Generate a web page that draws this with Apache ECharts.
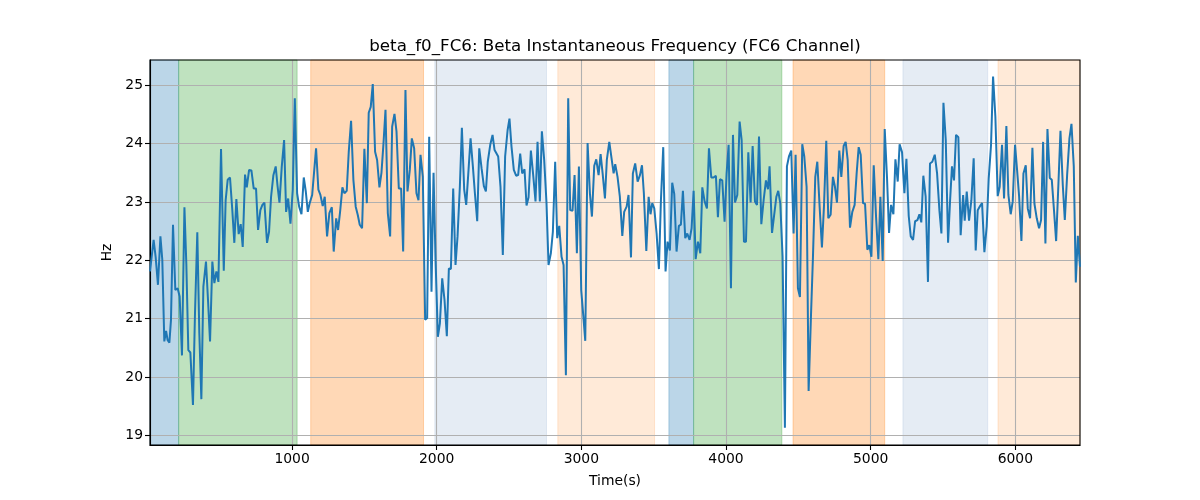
<!DOCTYPE html>
<html>
<head>
<meta charset="utf-8">
<script src="https://cdn.jsdelivr.net/npm/echarts@6/dist/echarts.min.js"></script>
<style>html,body{margin:0;padding:0;background:#fff}#c{width:1200px;height:500px}</style>
</head>
<body>
<div id="c"></div>
<script>
// ---- data ----
const times = [18,43,57,73,90,103,117,129,140,152,163,177,193,209,223,239,256,269,283,297,315,329,345,359,373,387,405,419,433,449,463,477,491,509,528,541,555,571,587,601,615,631,645,659,675,687,703,719,735,751,765,781,795,809,827,
841,855,871,887,899,913,929,945,959,973,989,1005,1019,1035,1049,1065,1081,1095,1109,1122,1139,1152,1166,1182,1196,1212,1226,1242,1258,1275,1288,1305,1318,1332,1348,1362,1378,1392,1408,1424,1440,1454,1468,1484,1500,1517,1530,1544,1558,1574,1588,1604,1618,1632,
1646,1662,1678,1692,1708,1722,1738,1754,1768,1784,1798,1814,1828,1844,1860,1874,1888,1904,1920,1934,1948,1964,1978,1992,2008,2022,2038,2054,2070,2084,2098,2114,2130,2144,2160,2174,2190,2204,2220,2234,2250,2264,2280,2294,2310,2326,2340,2353,2370,2386,2400,
2425,2441,2457,2473,2490,2503,2517,2533,2549,2563,2577,2591,2607,2621,2635,2651,2667,2683,2697,2713,2727,2743,2759,2773,2789,2803,2819,2833,2847,2863,2877,2893,2909,2923,2939,2953,2969,2983,2999,3013,3027,3043,3059,3073,3089,3103,3119,3133,3147,3163,3176,3193,3206,
3223,3234,3250,3266,3283,3296,3313,3326,3343,3356,3372,3389,3405,3419,3432,3449,3465,3478,3490,3504,3520,3536,3550,3566,3582,3596,3612,3628,3642,3658,3674,3688,3702,3718,3732,3748,3762,3776,3790,3806,3822,3836,3852,3868,3882,3898,3914,3930,3944,3958,3974,3990,4004,4018,
4034,4048,4062,4078,4094,4108,4124,4138,4154,4170,4184,4200,4214,4228,4244,4260,4276,4290,4301,4318,4331,4348,4361,4375,4391,4407,4421,4435,4451,4467,4481,4497,4511,4527,4541,4557,4571,4587,4601,4617,4631,4647,4663,4677,4693,4707,4723,4739,4753,4767,4783,4797,4813,4827,
4841,4857,4873,4889,4903,4917,4931,4947,4961,4977,4991,5005,5021,5037,5053,5067,5083,5097,5113,5127,5141,5157,5171,5187,5200,5217,5233,5247,5263,5277,5293,5307,5323,5337,5350,5364,5380,5396,5410,5426,5443,5459,5475,5489,5503,5519,5535,5549,5562,5576,5590,5606,5622,
5639,5650,5664,5680,5696,5712,5726,5740,5756,5770,5786,5802,5816,5832,5846,5862,5878,5892,5908,5922,5938,5952,5968,5982,5998,6012,6026,6042,6056,6072,6086,6102,6118,6132,6148,6164,6178,6192,6208,6222,6238,6252,6268,6282,6298,6312,6328,6342,6358,6374,6388,6404,6418,6432,6447];

const freqHz = [21.81,22.35,22.06,21.58,22.41,22.01,20.61,20.79,20.63,20.59,20.98,22.61,21.49,21.52,21.38,20.37,22.91,21.95,20.46,20.42,19.52,21.09,22.48,20.75,19.62,21.55,21.98,21.32,20.61,21.98,21.61,21.81,21.63,23.91,21.82,23.03,23.38,23.42,22.86,22.30,23.05,22.45,22.62,22.23,23.47,23.25,23.55,23.54,23.23,23.23,22.52,22.86,22.95,22.99,22.30,
22.49,23.09,23.46,23.61,23.29,22.99,23.61,24.06,22.83,23.06,22.63,23.21,24.78,23.15,22.92,22.79,23.42,23.18,22.83,22.98,23.12,23.09,23.92,23.21,23.12,22.93,23.09,22.41,22.81,22.91,22.15,22.72,22.52,22.83,23.25,23.15,23.19,23.86,24.39,23.38,22.92,22.78,22.61,22.55,23.91,22.98,24.53,24.63,25.02,23.86,23.72,23.25,23.5,24.0,
24.58,22.81,22.41,24.29,24.51,24.21,23.23,23.23,22.15,24.92,23.18,23.55,24.09,23.92,23.15,23.03,23.81,23.43,20.98,21.01,24.12,21.46,23.50,22.01,20.69,20.92,21.69,21.32,20.70,21.86,21.85,23.23,21.92,22.41,23.26,24.27,23.21,22.95,23.55,24.09,23.61,23.15,22.67,23.92,23.58,23.27,23.18,23.69,23.98,24.15,23.89,
23.78,23.26,22.09,23.78,24.23,24.43,23.95,23.55,23.45,23.46,23.83,23.49,23.56,22.94,23.08,23.88,23.46,23.01,24.03,23.01,24.21,23.72,22.98,21.92,22.12,22.49,23.69,22.38,22.59,22.06,21.92,20.03,24.78,22.86,22.85,23.46,22.12,23.61,21.49,21.06,20.62,24.01,23.15,22.75,23.62,23.73,23.46,23.82,23.49,23.06,23.72,24.03,24.06,
23.49,23.65,23.43,23.09,22.42,22.83,22.92,23.12,22.05,23.49,23.66,23.35,23.46,23.63,23.15,22.16,23.09,22.79,22.98,22.89,22.46,21.85,23.03,23.94,21.81,22.32,22.17,23.33,23.14,22.15,22.59,22.61,23.19,22.38,22.46,22.35,22.55,23.19,22.02,22.32,22.12,23.25,23.01,22.89,23.92,23.42,23.42,23.45,22.74,23.39,23.37,22.66,23.49,23.98,
21.52,24.15,22.99,23.12,24.38,24.06,22.32,22.32,23.85,22.99,23.96,23.01,22.95,24.12,22.62,23.03,23.37,23.22,23.61,22.47,22.49,23.09,23.19,22.98,22.06,19.13,23.61,23.78,23.88,22.46,23.81,21.52,21.37,23.99,23.78,23.26,19.76,21.03,22.06,23.43,23.69,22.92,22.22,22.92,24.05,22.72,22.78,23.43,23.26,22.99,23.88,23.43,23.96,24.03,
23.72,22.56,22.83,22.95,23.49,23.94,23.81,22.98,22.97,22.18,22.26,22.06,23.63,22.75,22.02,23.09,21.99,24.25,23.41,22.47,22.95,22.79,23.73,23.35,23.99,23.85,23.15,23.74,22.76,22.41,22.35,22.67,22.69,22.79,22.65,23.45,23.09,21.63,23.66,23.69,23.81,23.49,22.86,22.46,24.70,24.06,22.30,23.03,23.61,23.37,24.15,24.11,22.43,
23.12,22.68,23.18,22.68,23.03,23.75,22.17,22.86,22.93,22.98,22.14,22.58,23.41,23.98,25.15,24.46,23.10,23.26,23.98,23.06,24.30,23.12,22.79,23.01,23.98,23.55,23.10,22.33,23.49,23.63,22.89,22.72,23.93,22.97,22.72,22.55,22.69,24.03,22.29,24.25,23.41,23.38,22.83,22.33,23.32,24.22,23.29,22.69,23.46,24.09,24.34,23.61,21.62,22.42,21.89];

// shaded periods: start (s), end (s), kind index
const bandStart = [18, 216, 1129, 1987, 2837, 3605, 3776, 4463, 5223, 5880];
const bandEnd   = [216, 1035, 1909, 2759, 3506, 3776, 4386, 5097, 5809, 6447];
const bandKind  = [0, 1, 2, 3, 4, 0, 1, 2, 3, 4];

const xTicks = [1000, 2000, 3000, 4000, 5000, 6000];
const yTicks = [19, 20, 21, 22, 23, 24, 25];
const xMin = 18, xMax = 6447;
const yMin = 18.834, yMax = 25.434;

// ---- styles ----
const bandFill = ['rgba(31,119,180,0.3)', 'rgba(44,160,44,0.3)', 'rgba(255,127,14,0.3)', 'rgba(176,196,222,0.33)', 'rgba(255,127,14,0.16)'];
const font = 'DejaVu Sans';

const lineData = times.map((t, i) => [t, freqHz[i]]);
const bandData = bandStart.map((s, i) => [s, bandEnd[i], bandKind[i]]);

const chart = echarts.init(document.getElementById('c'), null, {renderer: 'canvas'});
chart.setOption({
  animation: false,
  backgroundColor: '#fff',
  title: {
    text: 'beta_f0_FC6: Beta Instantaneous Frequency (FC6 Channel)',
    left: 615, top: 38, padding: 0, textAlign: 'center',
    textStyle: {fontFamily: font, fontSize: 16.7, fontWeight: 'normal', color: '#000'}
  },
  grid: {left: 150, right: 120, top: 60, bottom: 55, show: true, borderColor: '#000', borderWidth: 1.1, backgroundColor: 'transparent', z: 4},
  xAxis: {
    type: 'value', min: xMin, max: xMax, z: 3,
    name: 'Time(s)', nameLocation: 'middle', nameGap: 29,
    nameTextStyle: {fontFamily: font, fontSize: 13.9, color: '#000'},
    axisLine: {show: true, onZero: false, lineStyle: {color: '#000', width: 1.1}},
    axisTick: {show: true, length: 5, lineStyle: {color: '#000', width: 1.1}, customValues: xTicks},
    axisLabel: {customValues: xTicks, fontFamily: font, fontSize: 13.9, color: '#000', margin: 7, formatter: v => String(v)},
    splitLine: {show: true, lineStyle: {color: '#b0b0b0', width: 1.1}}
  },
  yAxis: {
    type: 'value', min: yMin, max: yMax, z: 3,
    name: 'Hz', nameLocation: 'middle', nameGap: 26, nameRotate: 90,
    nameTextStyle: {fontFamily: font, fontSize: 13.9, color: '#000'},
    axisLine: {show: true, lineStyle: {color: '#000', width: 1.1}},
    axisTick: {show: true, length: 5, lineStyle: {color: '#000', width: 1.1}, customValues: yTicks},
    axisLabel: {customValues: yTicks, fontFamily: font, fontSize: 13.9, color: '#000', margin: 7, formatter: v => String(v)},
    splitLine: {show: true, lineStyle: {color: '#b0b0b0', width: 1.1}}
  },
  series: [
    {
      type: 'custom', z: 1, silent: true,
      data: bandData,
      encode: {x: [0, 1]},
      renderItem: (params, api) => {
        const p0 = api.coord([api.value(0), yMax]);
        const p1 = api.coord([api.value(1), yMin]);
        const c = bandFill[api.value(2)];
        return {type: 'rect', shape: {x: p0[0], y: p0[1], width: p1[0] - p0[0], height: p1[1] - p0[1]},
                style: {fill: c, stroke: c, lineWidth: 1}};
      }
    },
    {
      type: 'line', z: 5, data: lineData, showSymbol: false, symbol: 'none',
      lineStyle: {color: '#1f77b4', width: 2}, clip: true
    }
  ]
});
</script>
</body>
</html>
